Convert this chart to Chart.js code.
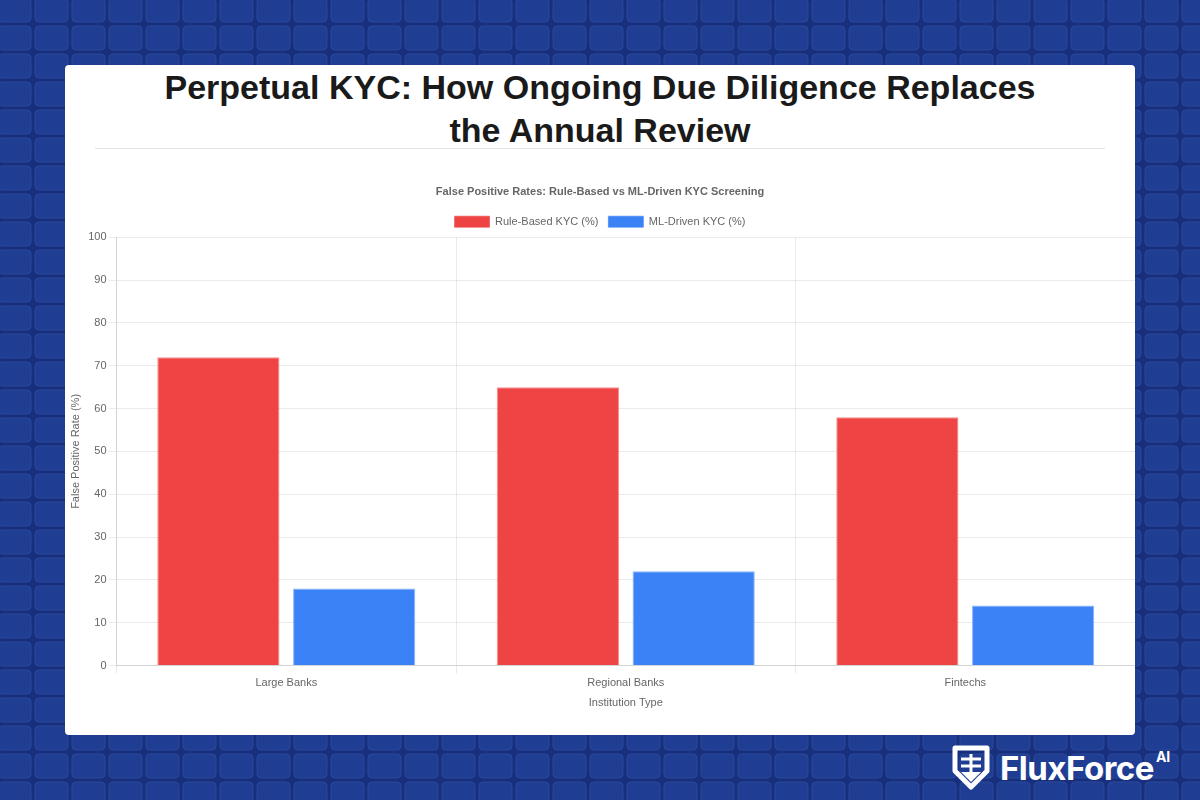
<!DOCTYPE html>
<html lang="en">
<head>
    <meta charset="UTF-8">
    <title>Perpetual KYC</title>
    <script src="https://cdn.jsdelivr.net/npm/chart.js@4.4.0/dist/chart.umd.min.js"></script>
    <style>
        html, body { margin: 0; padding: 0; }
        body {
            width: 1200px;
            height: 800px;
            overflow: hidden;
            position: relative;
            font-family: "Liberation Sans", Arial, Helvetica, sans-serif;
            background-color: #172f7c;
            background-image: url("data:image/svg+xml;utf8,<svg xmlns='http://www.w3.org/2000/svg' width='37' height='28'><rect x='2' y='2' width='33' height='24' rx='4' ry='4' fill='%231f3d92' stroke='%23284899' stroke-width='1'/></svg>");
            background-size: 37px 28px;
            background-position: -4px -4px;
        }
        .card {
            position: absolute;
            left: 65px;
            top: 65px;
            width: 1070px;
            height: 670px;
            background: #ffffff;
            border-radius: 4px;
            overflow: hidden;
        }
        .card h1 {
            margin: 0;
            position: absolute;
            left: 0;
            top: 1px;
            width: 100%;
            text-align: center;
            font-size: 34px;
            line-height: 43px;
            font-weight: bold;
            color: #1a1a1a;
        }
        .card hr {
            position: absolute;
            left: 30px;
            top: 83px;
            width: 1010px;
            margin: 0;
            border: none;
            border-top: 1px solid #e3e3e3;
        }
        .chart-box {
            position: absolute;
            left: 0;
            top: 110px;
            width: 1070px;
            height: 539px;
        }
        /* Logo en bas à droite */
        .brand {
            position: absolute;
            left: 952px;
            top: 744px;
            height: 48px;
            display: flex;
            align-items: center;
            color: #ffffff;
        }
        .brand svg { margin-right: 10px; }
        .brand .name {
            font-family: Inter, "Liberation Sans", Arial, sans-serif;
            font-size: 33px;
            font-weight: bold;
            letter-spacing: -0.5px;
        }
        .brand .ai {
            font-family: Inter, "Liberation Sans", Arial, sans-serif;
            font-size: 14px;
            font-weight: bold;
            position: relative;
            top: -12px;
            margin-left: 2px;
        }
    </style>
</head>
<body>
    <div class="card">
        <h1>Perpetual KYC: How Ongoing Due Diligence Replaces<br>the Annual Review</h1>
        <hr>
        <div class="chart-box">
            <canvas id="fp-chart"></canvas>
        </div>
    </div>

    <div class="brand">
        <svg width="38" height="46" viewBox="0 0 38 46">
            <path d="M3 3 H35 V26 L19 42 L3 26 Z" fill="none" stroke="#fff" stroke-width="5" stroke-linejoin="round"/>
            <path d="M9 14 H29 M9 21 H29 M19 9 V30" stroke="#fff" stroke-width="3"/>
            <path d="M9 27 L19 37 L29 27 Z" fill="#fff"/>
        </svg>
        <span class="name">FluxForce</span><span class="ai">AI</span>
    </div>

    <script>
        // Données du graphique
        const categories = ['Large Banks', 'Regional Banks', 'Fintechs'];
        const ruleBased = [72, 65, 58];
        const mlDriven = [18, 22, 14];

        const ctx = document.getElementById('fp-chart').getContext('2d');

        Chart.defaults.font.family = '"Liberation Sans", Arial, Helvetica, sans-serif';
        Chart.defaults.font.size = 11;
        Chart.defaults.color = '#666';

        new Chart(ctx, {
            type: 'bar',
            data: {
                labels: categories,
                datasets: [{
                    label: 'Rule-Based KYC (%)',
                    data: ruleBased,
                    backgroundColor: '#ef4444',
                    borderColor: 'rgba(239, 68, 68, 0.6)',
                    borderWidth: 1
                }, {
                    label: 'ML-Driven KYC (%)',
                    data: mlDriven,
                    backgroundColor: '#3b82f6',
                    borderColor: 'rgba(59, 130, 246, 0.6)',
                    borderWidth: 1
                }]
            },
            options: {
                responsive: true,
                maintainAspectRatio: false,
                animation: false,
                plugins: {
                    title: {
                        display: true,
                        text: 'False Positive Rates: Rule-Based vs ML-Driven KYC Screening',
                        font: { size: 11, weight: 'bold' },
                        padding: { top: 10, bottom: 8 }
                    },
                    legend: {
                        labels: { boxWidth: 35, boxHeight: 11 }
                    }
                },
                scales: {
                    y: {
                        min: 0,
                        max: 100,
                        ticks: { stepSize: 10, padding: 2 },
                        grid: { color: 'rgba(0, 0, 0, 0.08)' },
                        title: { display: true, text: 'False Positive Rate (%)' }
                    },
                    x: {
                        grid: { color: 'rgba(0, 0, 0, 0.08)' },
                        title: { display: true, text: 'Institution Type' }
                    }
                }
            }
        });
    </script>
</body>
</html>
